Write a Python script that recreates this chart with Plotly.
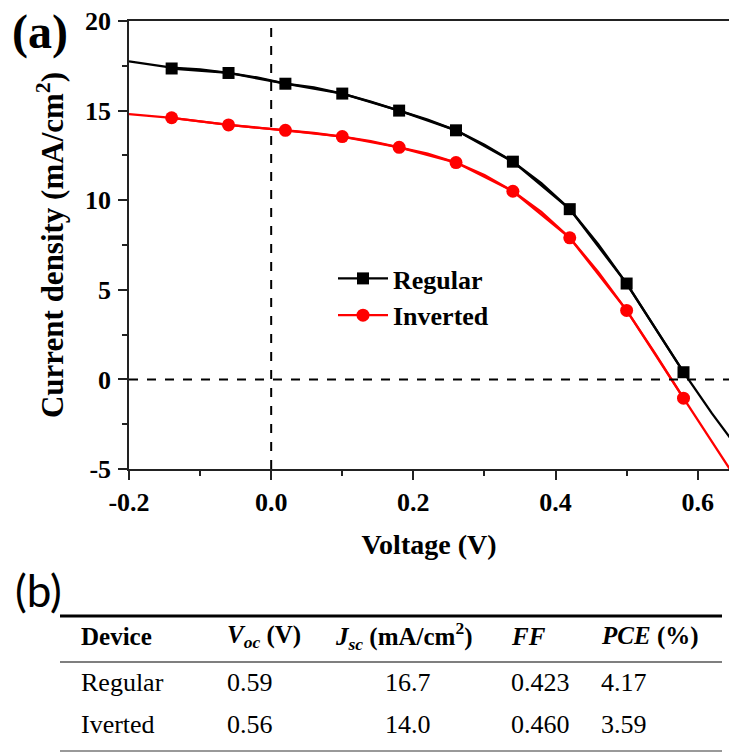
import plotly.graph_objects as go

# ---- data ----
marker_v = [-0.14, -0.06, 0.02, 0.10, 0.18, 0.26, 0.34, 0.42, 0.50, 0.58]
regular_marker_j = [17.35, 17.1, 16.5, 15.95, 15.0, 13.9, 12.15, 9.5, 5.35, 0.4]
inverted_marker_j = [14.6, 14.2, 13.9, 13.55, 12.95, 12.1, 10.5, 7.9, 3.85, -1.05]

curve_v = [-0.2, -0.14, -0.1, -0.06, -0.02, 0.02, 0.06, 0.10, 0.14, 0.18, 0.22,
           0.26, 0.30, 0.34, 0.38, 0.42, 0.46, 0.50, 0.54, 0.58, 0.62, 0.65]
regular_curve_j = [17.75, 17.4, 17.3, 17.1, 16.85, 16.5, 16.3, 15.95, 15.5, 15.0, 14.5,
                   13.9, 13.1, 12.15, 10.95, 9.5, 7.55, 5.35, 2.9, 0.4, -1.9, -3.5]
inverted_curve_j = [14.8, 14.6, 14.4, 14.2, 14.05, 13.9, 13.75, 13.55, 13.3, 12.95, 12.6,
                    12.1, 11.4, 10.5, 9.35, 7.9, 6.0, 3.85, 1.45, -1.05, -3.5, -5.3]

x_ticks = [-0.2, 0.0, 0.2, 0.4, 0.6]
x_tick_labels = ["-0.2", "0.0", "0.2", "0.4", "0.6"]
y_ticks = [-5, 0, 5, 10, 15, 20]
y_tick_labels = ["-5", "0", "5", "10", "15", "20"]

table_header = ["Device", "<i>V<sub>oc</sub></i> (V)", "<i>J<sub>sc</sub></i> (mA/cm<sup>2</sup>)",
                "<i>FF</i>", "<i>PCE</i> (%)"]
table_devices = ["Regular", "Iverted"]
table_voc = ["0.59", "0.56"]
table_jsc = ["16.7", "14.0"]
table_ff = ["0.423", "0.460"]
table_pce = ["4.17", "3.59"]

# ---- layout geometry (pixels) ----
W, H = 729, 753
L, T, B = 129, 21, 284
PW, PH = W - L, H - T - B


def px(x):
    return (x - L) / PW


def py(y):
    return (H - B - y) / PH


SERIF = "Liberation Serif"
AX = "#222"

fig = go.Figure()

fig.add_trace(go.Scatter(x=curve_v, y=regular_curve_j, mode="lines",
                         line=dict(color="black", width=2.3), showlegend=False, hoverinfo="skip"))
fig.add_trace(go.Scatter(x=curve_v, y=inverted_curve_j, mode="lines",
                         line=dict(color="#ff0000", width=2.3), showlegend=False, hoverinfo="skip"))
fig.add_trace(go.Scatter(x=marker_v, y=regular_marker_j, mode="lines+markers", name="Regular",
                         line=dict(color="black", width=2.3),
                         marker=dict(symbol="square", size=12, color="black")))
fig.add_trace(go.Scatter(x=marker_v, y=inverted_marker_j, mode="lines+markers", name="Inverted",
                         line=dict(color="#ff0000", width=2.3),
                         marker=dict(symbol="circle", size=13, color="#ff0000")))

fig.update_xaxes(range=[-0.2, 0.644], tickvals=x_ticks, ticktext=x_tick_labels,
                 showgrid=False, zeroline=False, showline=True, linecolor=AX, linewidth=1.5,
                 mirror=True, ticks="outside", ticklen=9, tickwidth=1.5, tickcolor=AX,
                 minor=dict(dtick=0.1, tick0=0, ticks="outside", ticklen=5, tickwidth=1.5,
                            tickcolor=AX, showgrid=False),
                 tickfont=dict(family=SERIF, size=26, color="black", weight="bold"),
                 title=dict(text="<b>Voltage (V)</b>", standoff=18,
                            font=dict(family=SERIF, size=28, color="black")))
fig.update_yaxes(range=[-5, 20], tickvals=y_ticks, ticktext=y_tick_labels,
                 showgrid=False, zeroline=False, showline=True, linecolor=AX, linewidth=1.5,
                 ticks="outside", ticklen=9, tickwidth=1.5, tickcolor=AX,
                 ticklabelstandoff=2,
                 minor=dict(dtick=2.5, tick0=0, ticks="outside", ticklen=5, tickwidth=1.5,
                            tickcolor=AX, showgrid=False),
                 tickfont=dict(family=SERIF, size=26, color="black", weight="bold"),
                 title=dict(text="<b>Current density (mA/cm<sup>2</sup>)</b>", standoff=12,
                            font=dict(family=SERIF, size=31, color="black")))

fig.add_vline(x=0, line=dict(color="black", width=2, dash="dash"))
fig.add_hline(y=0, line=dict(color="black", width=2, dash="dash"))

# table rules
for ry, w, c in [(616, 3, "black"), (662, 1.5, "#555"), (751, 1.5, "#777")]:
    fig.add_shape(type="line", xref="paper", yref="paper", x0=px(60), x1=px(722),
                  y0=py(ry), y1=py(ry), line=dict(color=c, width=w))

annotations = []
annotations.append(dict(text="<b>(a)</b>", xref="paper", yref="paper", x=px(40), y=py(32),
                        xanchor="center", yanchor="middle", showarrow=False,
                        font=dict(family=SERIF, size=48, color="black")))
annotations.append(dict(text="(b)", xref="paper", yref="paper", x=px(38), y=py(590),
                        xanchor="center", yanchor="middle", showarrow=False,
                        font=dict(family="Lato", size=44, color="black")))

col_x = [79, 225, 333, 509, 599]
jsc_center = 408
for txt, cx in zip(table_header, col_x):
    annotations.append(dict(text=f"<b>{txt}</b>", xref="paper", yref="paper", x=px(cx), y=py(636),
                            xanchor="left", yanchor="middle", showarrow=False,
                            font=dict(family=SERIF, size=25, color="black")))
rows = list(zip(table_devices, table_voc, table_jsc, table_ff, table_pce))
row_y = [682, 724]
for r, ry in zip(rows, row_y):
    for i, txt in enumerate(r):
        if i == 2:
            a = dict(x=px(jsc_center), xanchor="center")
        else:
            a = dict(x=px(col_x[i]), xanchor="left")
        annotations.append(dict(text=txt, xref="paper", yref="paper", y=py(ry),
                                yanchor="middle", showarrow=False,
                                font=dict(family=SERIF, size=26, color="black"), **a))

fig.update_layout(
    width=W, height=H, margin=dict(l=L, r=0, t=T, b=B),
    paper_bgcolor="white", plot_bgcolor="white",
    annotations=annotations,
    legend=dict(x=px(333), y=py(255), xanchor="left", yanchor="top",
                bgcolor="rgba(0,0,0,0)", itemwidth=50, tracegroupgap=0,
                font=dict(family=SERIF, size=26, color="black", weight="bold")),
)

fig.write_html("out.html")
